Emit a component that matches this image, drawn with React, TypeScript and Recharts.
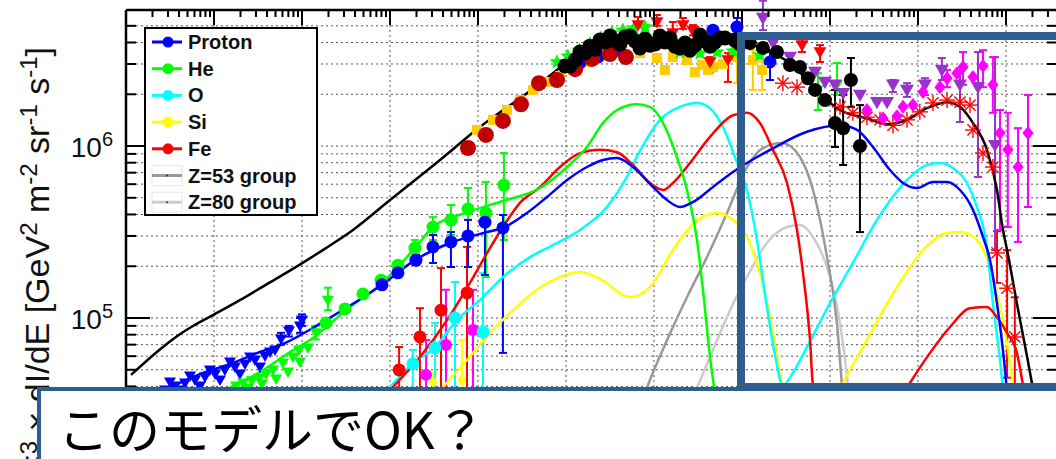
import React from 'react';
import { ComposedChart, Line, Scatter, XAxis, YAxis, CartesianGrid, ReferenceLine, ErrorBar } from 'recharts';

// ---- layout ----
const CHART_W = 1070;
const CHART_H = 480;
const PLOT_LEFT = 126;
const PLOT_RIGHT = 1057;
const FRAME = '#2e5d8e';
const FONT = '"Liberation Sans", Arial, sans-serif';

// ---- axes ----
const X_DOMAIN = [1, 3.8e10];
const Y_DOMAIN = [1.494e4, 6.18e6];
const X_DECADES = [1, 10, 1e2, 1e3, 1e4, 1e5, 1e6, 1e7, 1e8, 1e9, 1e10];
const Y_DECADES = [1e4, 1e5, 1e6];
const STEPS = [1, 2, 3, 4, 5, 6, 7, 8, 9];

// ---- colours ----
const BLUE = '#0000ff';
const GREEN = '#00ff00';
const CYAN = '#00ffff';
const YELLOW = '#ffff00';
const RED = '#ff0000';
const GRAY = '#999999';
const LGRAY = '#cccccc';
const DARKRED = '#c00000';
const GOLD = '#ffcc00';
const PURPLE = '#9933cc';
const MAGENTA = '#ff00ff';

// ---- model curves [E (GeV), E^3 dI/dE] ----
const TOTAL_MODEL = [
  [1.14, 4.67e4], [2.37, 6.5e4], [3.7, 7.76e4], [5.77, 8.98e4], [9.75, 1.04e5], [19.7, 1.27e5],
  [42.2, 1.6e5], [92.5, 2.03e5], [187, 2.55e5], [380, 3.25e5], [1000, 4.85e5], [3700, 8.3e5],
  [1.05e4, 1.29e6], [3.6e4, 2.03e6], [7.1e4, 2.65e6], [1.2e5, 3.29e6], [2.43e5, 3.86e6],
  [4.68e5, 4.25e6], [9.0e5, 4.25e6], [1.73e6, 3.92e6], [3.33e6, 3.86e6], [5.62e6, 4.07e6],
  [9.5e6, 4.13e6], [1.6e7, 3.72e6], [3.51e7, 3.04e6], [8.3e7, 1.93e6], [1.3e8, 1.62e6],
  [2.63e8, 1.45e6], [4.45e8, 1.34e6], [7.5e8, 1.42e6], [1.26e9, 1.66e6], [2.14e9, 1.8e6],
  [3.0e9, 1.69e6], [4.22e9, 1.36e6], [6.08e9, 9.5e5], [7.9e9, 5.55e5], [9.25e9, 3.25e5],
  [1.03e10, 2.48e5], [1.33e10, 1.22e5], [1.97e10, 4.19e4], [2.43e10, 2.23e4],
];
const PROTON_MODEL = [
  [2.77, 3.81e4], [6.93, 4.72e4], [15.2, 5.4e4], [33.3, 6.34e4], [60.8, 7.06e4], [187, 9.72e4],
  [811, 1.56e5], [1920, 2.17e5], [4810, 2.73e5], [1.27e4, 3.16e5], [1.92e4, 3.34e5], [3.6e4, 4.08e5],
  [6.08e4, 5.05e5], [1.03e5, 6.34e5], [1.73e5, 7.55e5], [2.63e5, 8.3e5], [3.8e5, 8.51e5],
  [5.77e5, 7.55e5], [9.75e5, 5.78e5], [1.41e6, 4.85e5], [1.97e6, 4.42e5], [2.77e6, 4.72e5],
  [4.68e6, 5.78e5], [7.9e6, 7.06e5], [2.25e7, 9.7e5], [5.48e7, 1.21e6], [1.3e8, 1.32e6],
  [2.03e8, 1.24e6], [3.08e8, 9.87e5], [4.81e8, 7.25e5], [6.76e8, 6.1e5], [9.75e8, 5.7e5],
  [1.48e9, 6.18e5], [2.14e9, 6.18e5], [3.0e9, 5.55e5], [4.22e9, 4.25e5], [5.48e9, 2.96e5],
  [6.58e9, 2.17e5], [7.9e9, 1.22e5], [9.5e9, 5.7e4], [1.05e10, 3.33e4],
];
const HE_MODEL = [
  [13.3, 3.81e4], [33.3, 4.85e4], [73.1, 6.34e4], [133, 7.66e4], [316, 1.11e5], [811, 1.6e5],
  [1920, 2.55e5], [3080, 3.38e5], [7700, 4.13e5], [1.92e4, 4.79e5], [5.07e4, 5.7e5], [1.03e5, 7.55e5],
  [1.73e5, 9.87e5], [2.63e5, 1.36e6], [3.8e5, 1.62e6], [6.41e5, 1.75e6], [9.0e5, 1.69e6],
  [1.27e6, 1.36e6], [1.82e6, 8.63e5], [2.37e6, 5.55e5], [3.08e6, 2.84e5], [3.6e6, 1.46e5],
  [4.33e6, 5.93e4], [5.07e6, 3.33e4],
];
const O_MODEL = [
  [1000, 3.97e4], [1820, 5.47e4], [3250, 6.78e4], [5770, 9.72e4], [1.05e4, 1.27e5], [1.92e4, 1.73e5],
  [3.9e4, 2.26e5], [7.1e4, 2.65e5], [1.44e5, 3.25e5], [2.92e5, 4.42e5], [4.93e5, 6.61e5],
  [6.93e5, 9.36e5], [1.17e6, 1.42e6], [1.97e6, 1.69e6], [3.08e6, 1.78e6], [4.33e6, 1.66e6],
  [6.08e6, 1.29e6], [8.3e6, 8.63e5], [1.14e7, 5.55e5], [1.48e7, 2.84e5], [1.92e7, 1.16e5],
  [2.37e7, 6.1e4], [2.92e7, 4.03e4], [3.6e7, 4.6e4], [5.48e7, 6.78e4], [1e8, 1.22e5],
  [1.82e8, 2.09e5], [3.42e8, 3.72e5], [7.5e8, 6.34e5], [1.26e9, 7.76e5], [1.78e9, 7.96e5],
  [2.5e9, 7.45e5], [3.6e9, 6.1e5], [4.68e9, 4.42e5], [6.08e9, 2.59e5], [7.1e9, 1.22e5],
  [8.55e9, 5.7e4], [9.5e9, 3.33e4],
];
const SI_MODEL = [
  [4000, 3.97e4], [7500, 5.7e4], [1.37e4, 8.18e4], [2.5e4, 1.11e5], [4.68e4, 1.46e5], [8.55e4, 1.73e5],
  [1.44e5, 1.85e5], [2.43e5, 1.69e5], [5.34e5, 1.32e5], [9.0e5, 1.51e5], [1.64e6, 2.48e5],
  [2.77e6, 3.52e5], [5.2e6, 4.08e5], [7.9e6, 3.72e5], [1.14e7, 2.96e5], [1.6e7, 1.83e5],
  [2.25e7, 8.18e4], [2.85e7, 4.07e4], [6.24e7, 1.49e4], [1.41e8, 4.19e4], [2.37e8, 6.78e4],
  [5.77e8, 1.51e5], [1.14e9, 2.48e5], [2.14e9, 3.12e5], [3.0e9, 3.16e5], [4.68e9, 2.84e5],
  [7.1e9, 1.73e5], [9.25e9, 9.72e4], [1.2e10, 4.19e4],
];
const FE_MODEL = [
  [1080, 3.97e4], [2190, 5.93e4], [4450, 9.72e4], [8100, 1.6e5], [1.27e4, 2.39e5], [1.92e4, 3.38e5],
  [3.0e4, 4.67e5], [5.07e4, 5.78e5], [8.55e4, 7.55e5], [1.44e5, 9.1e5], [2.43e5, 9.5e5],
  [3.8e5, 9.2e5], [5.77e5, 7.76e5], [9.0e5, 6.1e5], [1.27e6, 5.55e5], [1.64e6, 6.1e5],
  [2.56e6, 7.96e5], [4.33e6, 1.13e6], [7.9e6, 1.51e6], [1.14e7, 1.56e6], [1.6e7, 1.36e6],
  [2.25e7, 9.5e5], [3.25e7, 6.1e5], [4.22e7, 3.25e5], [4.93e7, 1.83e5], [5.93e7, 7.45e4],
  [6.41e7, 4.07e4], [2.19e8, 1.31e4], [8.1e8, 4.19e4], [1.37e9, 6.27e4], [2.31e9, 8.87e4],
  [3.9e9, 1.14e5], [6.08e9, 1.16e5], [7.9e9, 1.01e5], [1.03e10, 8.18e4], [1.33e10, 6.27e4],
  [1.56e10, 4.07e4],
];
const Z53_MODEL = [
  [4.68e5, 1.6e4], [8.3e5, 3.92e4], [1.41e6, 7.45e4], [2.37e6, 1.32e5], [4.0e6, 2.26e5],
  [6.76e6, 4.08e5], [1.14e7, 7.55e5], [1.73e7, 9.73e5], [2.85e7, 1.04e6], [4.56e7, 8.63e5],
  [6.41e7, 5.55e5], [9.25e7, 2.26e5], [1.2e8, 9.35e4], [1.37e8, 4.07e4], [1.6e8, 1.95e4],
];
const Z80_MODEL = [
  [1.97e6, 2.23e4], [3.08e6, 3.92e4], [4.68e6, 6.52e4], [8.3e6, 1.27e5], [1.14e7, 1.73e5],
  [1.92e7, 2.73e5], [3.25e7, 3.38e5], [4.56e7, 3.47e5], [6.41e7, 2.96e5], [1e8, 1.73e5],
  [1.3e8, 9.35e4], [1.6e8, 4.07e4], [1.82e8, 1.95e4],
];

// ---- measurements [E, F] or [E, F, low, high] ----
const P_TRI = [
  [2.43, 3.72e4], [2.77, 3.81e4], [3.16, 4.25e4], [3.6, 4.03e4], [4.11, 3.81e4], [4.68, 4.19e4],
  [5.34, 4.6e4], [6.08, 4.36e4], [6.93, 4.03e4], [7.9, 4.54e4], [9.0, 4.99e4], [10.3, 4.72e4],
  [11.7, 4.36e4], [13.3, 4.99e4], [15.2, 5.55e4], [17.3, 5.19e4], [19.7, 4.72e4], [22.5, 5.41e4],
  [25.7, 5.93e4], [29.2, 5.7e4], [33.3, 5.19e4], [38.0, 6.01e4], [43.3, 6.34e4], [49.3, 6.52e4],
];
const P_TRI_ERR = [
  [57.7, 7.55e4, 7.0e4, 8.2e4], [71.1, 8.39e4, 7.8e4, 9.0e4], [94.9, 8.98e4, 8.2e4, 1.0e5],
  [100, 9.73e4, 9.0e4, 1.05e5],
];
const HE_TRI = [
  [17.8, 4.03e4], [21.4, 4.19e4], [24.3, 3.92e4], [27.0, 4.31e4], [32.5, 4.48e4], [35.1, 4.13e4],
  [39.0, 4.72e4], [46.8, 4.99e4], [50.7, 4.42e4], [60.8, 5.47e4], [69.3, 4.85e4], [79.0, 5.93e4],
  [92.5, 6.52e4], [94.9, 5.55e4], [117, 6.7e4],
];
const HE_TRI_ERR = [[144, 8.18e4, 7.5e4, 9.0e4], [197, 1.27e5, 1.11e5, 1.5e5]];
const P_CIRC = [
  [1.44e5, 3.04e6], [2.31e5, 3.29e6], [3.8e5, 3.61e6], [6.93e5, 3.77e6], [4.68e6, 4.72e6],
];
const P_CIRC_ERR = [
  [811, 1.56e5, 1.48e5, 1.64e5], [1230, 1.83e5, 1.74e5, 1.92e5], [1970, 2.17e5, 2.03e5, 2.33e5],
  [3080, 2.59e5, 2.09e5, 3.04e5], [4930, 2.77e5, 1.98e5, 3.16e5], [7700, 3.0e5, 1.98e5, 3.72e5],
  [1.2e4, 3.61e5, 1.78e5, 4.25e5], [1.92e4, 3.34e5, 6.27e4, 3.97e5],
  [8.77e6, 4.92e6, 4.36e6, 5.55e6], [2.08e7, 3.08e6, 2.42e6, 3.61e6],
];
const HE_CIRC = [[187, 9.35e4], [308, 1.13e5], [493, 1.38e5], [791, 1.66e5], [1230, 2.03e5]];
const HE_CIRC_ERR = [
  [1920, 2.55e5, 2.26e5, 2.84e5], [3080, 3.38e5, 2.84e5, 3.86e5], [4930, 3.72e5, 3.04e5, 4.54e5],
  [7700, 4.31e5, 3.16e5, 5.7e5], [1.23e4, 4.08e5, 1.73e5, 6.18e5], [1.97e4, 5.93e5, 2.84e5, 9.1e5],
];
const FE_CIRC_ERR = [
  [1270, 4.99e4, 3.9e4, 6.78e4], [2190, 7.76e4, 3.9e4, 1.14e5], [3800, 1.11e5, 3e4, 1.95e5],
  [7500, 1.4e5, 2e4, 2.59e5],
];
const O_CIRC_ERR = [
  [1820, 5.41e4, 3.9e4, 6.52e4], [3250, 6.7e4, 3e4, 9.35e4], [5480, 1.0e5, 3e4, 1.62e5],
  [1.14e4, 8.3e4, 2e4, 1.83e5],
];
const NI_CIRC_ERR = [
  [2570, 4.67e4, 3e4, 7.45e4], [4330, 6.96e4, 3e4, 1.46e5], [8770, 8.51e4, 3e4, 1.46e5],
];
const SI_CIRC_ERR = [[3080, 4.25e4, 3e4, 4.8e4], [6580, 4.36e4, 3e4, 7.45e4]];
const ALL_CIRC = [
  [7700, 9.74e5], [1.23e4, 1.16e6], [1.92e4, 1.4e6], [3.08e4, 1.75e6], [4.93e4, 2.32e6],
  [7.9e4, 2.42e6], [1.27e5, 2.8e6], [1.97e5, 3.21e6], [3.16e5, 3.43e6], [4.81e5, 3.29e6],
];
const ALL_SQ = [
  [9750, 1.24e6], [1.48e4, 1.42e6], [2.14e4, 1.62e6], [3.0e4, 1.85e6], [4.22e4, 2.12e6],
  [6.08e4, 2.36e6], [8.55e4, 2.55e6], [1.2e5, 2.77e6], [1.73e5, 3.08e6], [2.43e5, 3.33e6],
  [6.93e5, 3.47e6], [1.08e6, 3.25e6], [1.33e6, 2.77e6], [1.64e6, 3.29e6], [2.37e6, 3.16e6],
  [2.92e6, 2.69e6], [3.51e6, 2.96e6], [4.11e6, 2.77e6], [4.68e6, 2.88e6], [6.08e6, 3.0e6],
];
const ALL_SQ_ERR = [
  [8.77e6, 3.29e6, 2.32e6, 3.5e6], [1.33e7, 3.16e6, 2.12e6, 3.61e6], [1.69e7, 2.77e6, 2.12e6, 3.1e6],
];
const HE_STAR = [
  [7.9e4, 3.08e6], [1.05e5, 3.33e6], [1.41e5, 3.61e6], [1.87e5, 3.92e6], [2.5e5, 4.25e6],
  [3.33e5, 4.54e6], [4.45e5, 4.72e6], [5.93e5, 4.85e6], [7.9e5, 4.92e6], [1.97e6, 3.52e6],
  [3.33e6, 3.47e6], [5.2e6, 3.52e6], [7.9e6, 3.56e6], [1.6e7, 3.38e6],
];
const HE_STAR_ERR = [[7.3e7, 2.12e6, 1.62e6, 2.65e6], [1.2e8, 2.27e6, 1.98e6, 3.04e6]];
const FE_TRI_ERR = [
  [6.58e5, 5.05e6, 4.9e6, 5.62e6], [1.08e6, 5.26e6, 5.0e6, 5.78e6], [1.64e6, 4.54e6, 4.3e6, 5.26e6],
  [2.14e6, 5.05e6, 4.8e6, 5.55e6], [2.77e6, 4.67e6, 4.4e6, 5.05e6], [4.33e6, 3.08e6, 2.69e6, 3.29e6],
  [6.93e6, 3.16e6, 2.36e6, 3.47e6], [4.81e7, 3.86e6, 3.52e6, 4.25e6], [7.7e7, 3.52e6, 3.08e6, 3.86e6],
];
const UHE_TRI = [
  [2.25e7, 3.97e6], [3.51e7, 3.29e6], [6.76e7, 2.69e6], [8.77e7, 2.36e6], [1.14e8, 2.27e6],
  [1.41e8, 2.03e6], [2.19e8, 1.98e6], [3.42e8, 1.8e6], [4.45e8, 1.8e6],
];
const UHE_TRI_ERR = [
  [1.73e7, 5.55e6, 4.72e6, 7.0e6], [5.2e8, 2.27e6, 2.06e6, 2.42e6], [7.5e8, 2.12e6, 1.93e6, 2.32e6],
  [1.2e9, 2.27e6, 1.98e6, 2.48e6], [1.87e9, 2.77e6, 2.42e6, 3.25e6], [3.0e9, 2.27e6, 1.38e6, 2.77e6],
  [4.81e9, 2.2e6, 6.61e5, 3.52e6], [7.5e9, 1.01e6, 2.48e5, 3.29e6],
];
const UHE_DIA = [
  [2.63e8, 1.62e6], [4.0e8, 1.45e6], [5.77e8, 1.49e6], [6.76e8, 1.69e6], [8.77e8, 1.73e6],
  [1.14e9, 2.06e6], [1.78e9, 2.2e6], [2.77e9, 2.65e6], [4.22e9, 2.52e6],
];
const UHE_DIA_ERR = [
  [2.14e9, 2.48e6, 2.2e6, 2.77e6], [3.25e9, 2.88e6, 2.27e6, 3.52e6], [5.48e9, 2.92e6, 2.2e6, 3.61e6],
  [7.1e9, 2.27e6, 1.56e6, 3.29e6], [8.55e9, 1.19e6, 3.25e5, 1.62e6], [1.05e10, 9.5e5, 3.38e5, 1.56e6],
  [1.37e10, 7.55e5, 2.77e5, 1.27e6], [1.78e10, 1.19e6, 4.42e5, 1.98e6],
];
const UHE_AST = [
  [2.92e7, 2.32e6], [4.22e7, 2.2e6], [1.3e8, 1.69e6], [1.82e8, 1.56e6], [2.63e8, 1.47e6],
  [3.7e8, 1.42e6], [5.2e8, 1.32e6], [7.5e8, 1.42e6], [1.05e9, 1.58e6], [1.48e9, 1.78e6],
  [2.14e9, 1.85e6], [3.0e9, 1.8e6], [3.9e9, 1.73e6], [4.22e9, 1.24e6], [5.48e9, 9.1e5], [7.1e9, 7.55e5],
];
const UHE_AST_ERR = [
  [7.9e9, 2.39e5, 1.6e5, 3.2e5], [1.03e10, 1.49e5, 4.5e4, 2.48e5], [1.26e10, 7.76e4, 3.5e4, 1.32e5],
];
const KNEE_BAND = [
  [9.75e4, 2.92e6], [1.11e5, 2.92e6], [1.27e5, 3.16e6], [1.44e5, 3.52e6], [1.64e5, 3.47e6],
  [1.87e5, 3.81e6], [2.14e5, 3.66e6], [2.43e5, 4.13e6], [2.77e5, 4.03e6], [3.16e5, 4.36e6],
  [3.6e5, 4.08e6], [4.11e5, 3.92e6], [4.68e5, 4.31e6], [5.34e5, 4.36e6], [6.08e5, 4.08e6],
  [6.93e5, 3.72e6], [7.9e5, 4.19e6], [9.0e5, 3.86e6], [1.03e6, 3.92e6], [1.17e6, 4.36e6],
  [1.33e6, 4.03e6], [1.52e6, 4.25e6], [1.73e6, 3.81e6], [1.97e6, 3.72e6], [2.25e6, 3.97e6],
  [2.56e6, 3.61e6], [2.92e6, 3.86e6], [3.33e6, 4.42e6], [3.8e6, 4.08e6], [4.33e6, 3.81e6],
  [4.93e6, 4.03e6], [5.62e6, 4.25e6], [6.41e6, 4.25e6], [8.3e6, 4.13e6], [9.5e6, 3.92e6],
  [1.08e7, 4.13e6],
];
const GRANDE = [
  [1.23e7, 3.97e6], [1.73e7, 3.72e6], [2.5e7, 3.52e6], [3.51e7, 2.96e6], [4.56e7, 2.88e6],
  [5.62e7, 2.48e6], [6.76e7, 2.12e6], [8.77e7, 1.85e6],
];
const GRANDE_ERR = [
  [1.14e8, 1.36e6, 9.87e5, 2.12e6], [1.41e8, 1.27e6, 7.76e5, 1.98e6], [1.73e8, 2.42e6, 1.69e6, 3.25e6],
  [2.19e8, 1.0e6, 3.16e5, 1.73e6],
];

const LEGEND = [
  { label: 'Proton', color: BLUE, group: false },
  { label: 'He', color: GREEN, group: false },
  { label: 'O', color: CYAN, group: false },
  { label: 'Si', color: YELLOW, group: false },
  { label: 'Fe', color: RED, group: false },
  { label: 'Z=53 group', color: GRAY, group: true },
  { label: 'Z=80 group', color: LGRAY, group: true },
];

const X_TICKS = X_DECADES.flatMap((d) => STEPS.map((s) => s * d)).filter((v) => v <= X_DOMAIN[1]);
const Y_TICKS = Y_DECADES.flatMap((d) => STEPS.map((s) => s * d)).filter((v) => v >= 1.5e4 && v <= 5.5e6);

const pts = (rows: number[][]) => rows.map(([x, y]) => ({ x, y }));
const errPts = (rows: number[][]) => rows.map(([x, y, lo, hi]) => ({ x, y, err: [y - lo, hi - y] }));

const XTick = ({ x, y, payload }: any) => {
  const major = X_DECADES.includes(payload.value);
  return <line x1={x} x2={x} y1={y} y2={y + (major ? 15 : 7)} stroke="#000" strokeWidth={2} />;
};

const YTick = ({ x, y, payload }: any) => {
  const v = payload.value;
  const major = Y_DECADES.includes(v);
  const len = major ? 24 : 10;
  const pw = PLOT_RIGHT - PLOT_LEFT;
  return (
    <g>
      <line x1={x} x2={x + len} y1={y} y2={y} stroke="#000" strokeWidth={2} />
      <line x1={x + pw - len} x2={x + pw} y1={y} y2={y} stroke="#000" strokeWidth={2} />
      {major && (
        <text x={x - 13} y={y + 11} textAnchor="end" fontSize={28} fontFamily={FONT} fill="#111">
          10<tspan dy={-11} fontSize={20}>{Math.round(Math.log10(v))}</tspan>
        </text>
      )}
    </g>
  );
};

const starPoints = (cx: number, cy: number, r: number) => {
  const out: string[] = [];
  for (let i = 0; i < 10; i++) {
    const a = -Math.PI / 2 + (i * Math.PI) / 5;
    const rr = i % 2 === 0 ? r : r * 0.45;
    out.push(`${cx + rr * Math.cos(a)},${cy + rr * Math.sin(a)}`);
  }
  return out.join(' ');
};

const marker = (kind: string, color: string, s: number) => (p: any) => {
  const { cx, cy } = p;
  if (!Number.isFinite(cx) || !Number.isFinite(cy)) return <g />;
  switch (kind) {
    case 'tri':
      return <polygon points={`${cx - s},${cy - s * 0.75} ${cx + s},${cy - s * 0.75} ${cx},${cy + s}`} fill={color} />;
    case 'square':
      return <rect x={cx - s} y={cy - s} width={2 * s} height={2 * s} fill={color} />;
    case 'diamond':
      return <polygon points={`${cx},${cy - s} ${cx + s * 0.8},${cy} ${cx},${cy + s} ${cx - s * 0.8},${cy}`} fill={color} />;
    case 'star':
      return <polygon points={starPoints(cx, cy, s)} fill={color} />;
    case 'aster':
      return (
        <g stroke={color} strokeWidth={1.4}>
          <line x1={cx - s} x2={cx + s} y1={cy} y2={cy} />
          <line x1={cx} x2={cx} y1={cy - s} y2={cy + s} />
          <line x1={cx - s * 0.7} x2={cx + s * 0.7} y1={cy - s * 0.7} y2={cy + s * 0.7} />
          <line x1={cx - s * 0.7} x2={cx + s * 0.7} y1={cy + s * 0.7} y2={cy - s * 0.7} />
        </g>
      );
    default:
      return <circle cx={cx} cy={cy} r={s} fill={color} />;
  }
};

const dots = (rows: number[][], kind: string, color: string, s: number) => (
  <Scatter data={pts(rows)} dataKey="y" shape={marker(kind, color, s)} isAnimationActive={false} />
);

const errDots = (rows: number[][], kind: string, color: string, s: number) => (
  <Scatter data={errPts(rows)} dataKey="y" shape={marker(kind, color, s)} isAnimationActive={false}>
    <ErrorBar dataKey="err" direction="y" width={4} stroke={color} strokeWidth={2} isAnimationActive={false} />
  </Scatter>
);

const curve = (rows: number[][], color: string) => (
  <Line
    data={pts(rows)}
    dataKey="y"
    type="monotone"
    stroke={color}
    strokeWidth={2.5}
    dot={false}
    activeDot={false}
    isAnimationActive={false}
  />
);

export default function App() {
  return (
    <div
      style={{
        position: 'absolute',
        left: 0,
        top: 0,
        width: 1056,
        height: 459,
        overflow: 'hidden',
        background: '#fff',
        fontFamily: FONT,
      }}
    >
      <ComposedChart width={CHART_W} height={CHART_H} margin={{ top: 0, right: CHART_W - PLOT_RIGHT, bottom: 20, left: 76 }}>
        <CartesianGrid vertical={false} stroke="#555" strokeDasharray="2 3" />
        {X_DECADES.slice(1).map((d) => (
          <ReferenceLine key={d} x={d} stroke="#555" strokeDasharray="2 3" />
        ))}
        <XAxis
          type="number"
          dataKey="x"
          scale="log"
          domain={X_DOMAIN}
          allowDataOverflow
          orientation="top"
          ticks={X_TICKS}
          interval={0}
          tick={(p: any) => <XTick {...p} />}
          tickLine={false}
          tickSize={0}
          tickMargin={0}
          height={10}
          axisLine={{ stroke: '#000', strokeWidth: 2.5 }}
        />
        <YAxis
          type="number"
          dataKey="y"
          scale="log"
          domain={Y_DOMAIN}
          allowDataOverflow
          ticks={Y_TICKS}
          interval={0}
          tick={(p: any) => <YTick {...p} />}
          tickLine={false}
          tickSize={0}
          tickMargin={0}
          width={50}
          axisLine={{ stroke: '#000', strokeWidth: 2.5 }}
        />

        {dots(P_TRI, 'tri', BLUE, 6)}
        {errDots(P_TRI_ERR, 'tri', BLUE, 6)}
        {dots(HE_TRI, 'tri', GREEN, 6)}
        {errDots(HE_TRI_ERR, 'tri', GREEN, 6)}
        {errDots(SI_CIRC_ERR, 'circle', YELLOW, 4)}
        {errDots(NI_CIRC_ERR, 'circle', MAGENTA, 6)}
        {errDots(FE_CIRC_ERR, 'circle', RED, 6.5)}
        {errDots(O_CIRC_ERR, 'circle', CYAN, 6.5)}
        {dots(HE_CIRC, 'circle', GREEN, 6.5)}
        {errDots(HE_CIRC_ERR, 'circle', GREEN, 6.5)}
        {errDots(P_CIRC_ERR, 'circle', BLUE, 6.5)}
        {dots(ALL_SQ, 'square', GOLD, 5)}
        {errDots(ALL_SQ_ERR, 'square', GOLD, 5)}
        {dots(HE_STAR, 'star', GREEN, 8)}
        {errDots(HE_STAR_ERR, 'tri', GREEN, 6)}
        {dots(P_CIRC, 'circle', BLUE, 6.5)}
        {dots(ALL_CIRC, 'circle', DARKRED, 8)}
        {errDots(FE_TRI_ERR, 'tri', RED, 6.5)}
        {dots(KNEE_BAND, 'circle', '#000', 7.5)}
        {dots(UHE_AST, 'aster', RED, 8)}
        {errDots(UHE_AST_ERR, 'aster', RED, 8)}
        {dots(UHE_TRI, 'tri', PURPLE, 7)}
        {errDots(UHE_TRI_ERR, 'tri', PURPLE, 7)}
        {dots(UHE_DIA, 'diamond', MAGENTA, 7)}
        {errDots(UHE_DIA_ERR, 'diamond', MAGENTA, 7)}
        {dots(GRANDE, 'circle', '#000', 7)}
        {errDots(GRANDE_ERR, 'circle', '#000', 7)}

        {curve(Z80_MODEL, LGRAY)}
        {curve(Z53_MODEL, GRAY)}
        {curve(SI_MODEL, YELLOW)}
        {curve(O_MODEL, CYAN)}
        {curve(FE_MODEL, RED)}
        {curve(HE_MODEL, GREEN)}
        {curve(PROTON_MODEL, BLUE)}
        {curve(TOTAL_MODEL, '#000')}
      </ComposedChart>

      <svg width={1056} height={459} style={{ position: 'absolute', left: 0, top: 0 }}>
        <text
          transform="translate(49 47) rotate(-90)"
          textAnchor="end"
          fontSize={34}
          fontFamily={FONT}
          fill="#111"
          style={{ whiteSpace: 'pre' }}
        >
          E<tspan dy={-12} fontSize={24}>3</tspan>
          <tspan dy={12}>{' × dI/dE [GeV'}</tspan>
          <tspan dy={-12} fontSize={24}>2</tspan>
          <tspan dy={12}>{' m'}</tspan>
          <tspan dy={-12} fontSize={24}>-2</tspan>
          <tspan dy={12}>{' sr'}</tspan>
          <tspan dy={-12} fontSize={24}>-1</tspan>
          <tspan dy={12}>{' s'}</tspan>
          <tspan dy={-12} fontSize={24}>-1</tspan>
          <tspan dy={12}>]</tspan>
        </text>

        <rect x={145} y={28} width={172} height={187} fill="#fff" stroke="#000" strokeWidth={2} />
        {LEGEND.map((e, i) => {
          const cy = 42 + i * 26.7;
          return (
            <g key={e.label}>
              {e.group && <rect x={152} y={cy - 10} width={30} height={20} fill="none" stroke="#e6e6e6" />}
              <line x1={152} x2={182} y1={cy} y2={cy} stroke={e.color} strokeWidth={3} />
              {e.group ? (
                <circle cx={167} cy={cy} r={1} fill="#333" />
              ) : (
                <circle cx={168} cy={cy} r={5.5} fill={e.color} />
              )}
              <text x={188} y={cy + 7} fontSize={20} fontWeight="bold" fontFamily={FONT} fill="#111">
                {e.label}
              </text>
            </g>
          );
        })}
      </svg>

      <div
        style={{
          position: 'absolute',
          left: 737,
          top: 32,
          width: 400,
          height: 359,
          border: `8px solid ${FRAME}`,
          boxSizing: 'border-box',
        }}
      />
      <div
        style={{
          position: 'absolute',
          left: 37,
          top: 387,
          width: 1100,
          height: 200,
          border: `4px solid ${FRAME}`,
          background: '#fff',
          boxSizing: 'border-box',
        }}
      />
      <svg width={1056} height={459} style={{ position: 'absolute', left: 0, top: 0 }}>
        <text x={58} y={449} fontSize={51} fontFamily='"Noto Sans CJK JP", sans-serif' fill="#000">
          このモデルでOK？
        </text>
      </svg>
    </div>
  );
}
